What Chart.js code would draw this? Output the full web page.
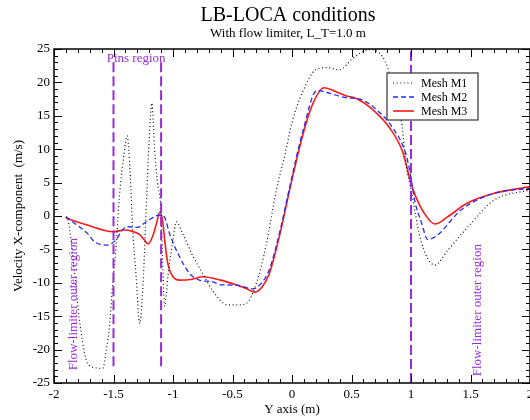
<!DOCTYPE html>
<html>
<head>
<meta charset="utf-8">
<script src="https://cdn.jsdelivr.net/npm/chart.js@4.4.1/dist/chart.umd.min.js"></script>
<style>
  html, body { margin: 0; padding: 0; background: #fff; overflow: hidden; }
  #wrap { width: 540px; height: 420px; }
</style>
</head>
<body>
<div id="wrap"><canvas id="grafico" width="540" height="420"></canvas></div>
<script>
// tick labels
const xTicks = [-2, -1.5, -1, -0.5, 0, 0.5, 1, 1.5, 2];
const yTicks = [-25, -20, -15, -10, -5, 0, 5, 10, 15, 20, 25];

// Mesh M1 (dotted)
const m1X = [-1.9, -1.88, -1.83, -1.786, -1.73, -1.69, -1.59, -1.56, -1.534, -1.506, -1.48, -1.45, -1.41, -1.385,
  -1.36, -1.34, -1.31, -1.28, -1.25, -1.23, -1.2, -1.178, -1.155, -1.13, -1.1, -1.085, -1.07, -1.055, -1.04,
  -1.0, -0.973, -0.92, -0.83, -0.75, -0.67, -0.54, -0.45, -0.385, -0.3, -0.22, -0.13, -0.06, 0.0, 0.09, 0.2, 0.29,
  0.4, 0.51, 0.595, 0.65, 0.76, 0.805, 0.86, 0.92, 0.96, 1.0, 1.03, 1.08, 1.2, 1.31, 1.48, 1.7, 2.0];
const m1Y = [-0.1, -0.8, -8, -15.6, -21.5, -22.5, -22.8, -20, -16.6, -10, -5, 3, 9.5, 12,
  6.4, -1.6, -9, -16.1, -9.6, -1, 11.4, 16.9, 10, 5, 0.5, -8, -13.5, -11.5, -8.6,
  -3.6, -0.85, -2.6, -6.1, -8.6, -11.1, -13.3, -13.3, -13.1, -10.1, -4.6, 4.0, 9.1, 14.0, 18.6, 21.9, 22.2,
  21.9, 23.6, 24.6, 24.9, 23.9, 22.1, 18.5, 14.1, 7.5, 4.0, 1.0, -3.5, -7.35, -5.1, -1.6, 2.4, 3.9];

// Mesh M2 (dashed)
const m2X = [-1.9, -1.83, -1.72, -1.66, -1.56, -1.48, -1.435, -1.39, -1.3, -1.225, -1.18, -1.11, -1.07, -1.03,
  -0.945, -0.86, -0.78, -0.665, -0.6, -0.47, -0.33, -0.25, -0.19, -0.1, -0.02, 0.09, 0.21, 0.31,
  0.46, 0.57, 0.71, 0.85, 0.96, 1.0, 1.03, 1.09, 1.14, 1.22, 1.42, 1.7, 2.0];
const m2Y = [-0.1, -1.05, -2.6, -3.85, -4.35, -3.6, -2.35, -1.6, -1.7, -0.85, -0.35, 0.15, -0.2, -2.6,
  -6.1, -8.6, -9.6, -9.85, -10.3, -10.35, -10.9, -9.9, -8.0, -2.2, 4.3, 12.6, 18.8, 18.4,
  17.7, 17.5, 15.9, 13.1, 9.1, 5.7, 2.4, -1.1, -3.5, -2.9, 0.9, 3.4, 4.15];

// Mesh M3 (solid)
const m3X = [-1.9, -1.72, -1.5, -1.41, -1.34, -1.28, -1.24, -1.21, -1.17, -1.14, -1.11, -1.085, -1.07, -1.044,
  -1.0, -0.945, -0.85, -0.75, -0.6, -0.47, -0.38, -0.31, -0.25, -0.19, -0.1, -0.02, 0.09, 0.17, 0.27,
  0.37, 0.45, 0.54, 0.68, 0.82, 0.93, 1.0, 1.04, 1.11, 1.2, 1.31, 1.47, 1.7, 2.0];
const m3Y = [-0.3, -1.35, -2.35, -2.1, -2.3, -2.8, -3.6, -4.2, -3.0, -1.2, 0.6, -1.0, -3.6, -7.1,
  -9.1, -9.6, -9.5, -9.1, -9.6, -10.3, -10.9, -11.4, -10.6, -8.6, -2.6, 3.9, 12.1, 16.6, 19.2,
  18.6, 18.0, 17.6, 15.9, 13.2, 9.6, 4.9, 2.9, 0.45, -1.2, -0.1, 1.9, 3.4, 4.4];

// region markers
const regionLinesX = [-1.5, -1.1, 1.0];
const regionLinesTop = [23.5, 23.5, 25];
const regionLinesBottom = [-22.5, -22.5, -25];

const serif = "'Liberation Serif', 'DejaVu Serif', serif";
const roxo = '#9b2bd8';

const toPoints = (xs, ys) => xs.map((x, i) => ({ x: x, y: ys[i] }));

const malhas = [
  { label: 'Mesh M1', xs: m1X, ys: m1Y, color: '#111111', width: 1.2, dash: [1, 2.6] },
  { label: 'Mesh M2', xs: m2X, ys: m2Y, color: '#1f2bff', width: 1.3, dash: [5, 3] },
  { label: 'Mesh M3', xs: m3X, ys: m3Y, color: '#ff1a1a', width: 1.6, dash: [] },
];

const datasets = regionLinesX.map((x, i) => ({
  label: 'region',
  data: [{ x: x, y: regionLinesBottom[i] }, { x: x, y: regionLinesTop[i] }],
  borderColor: roxo,
  borderWidth: 2,
  borderDash: [10, 4],
  pointRadius: 0,
  tension: 0,
}));

malhas.forEach((m) => {
  datasets.push({
    label: m.label,
    data: toPoints(m.xs, m.ys),
    borderColor: m.color,
    borderWidth: m.width,
    borderDash: m.dash,
    pointRadius: 0,
    cubicInterpolationMode: 'monotone',
  });
});

const desenharMoldura = (chart) => {
  const { ctx, chartArea: a, scales } = chart;
  const x = scales.x;
  const y = scales.y;
  ctx.save();
  ctx.strokeStyle = '#000';
  ctx.lineWidth = 1;
  const tick = (x1, y1, x2, y2) => {
    ctx.beginPath();
    ctx.moveTo(x1, y1);
    ctx.lineTo(x2, y2);
    ctx.stroke();
  };
  // x ticks, major every 0.5, minor every 0.1
  for (let i = -20; i <= 20; i++) {
    const px = Math.round(x.getPixelForValue(i / 10)) + 0.5;
    const len = i % 5 === 0 ? 8 : 4;
    tick(px, a.bottom, px, a.bottom - len);
    tick(px, a.top, px, a.top + len);
  }
  // y ticks, major every 5, minor every 1
  for (let j = -25; j <= 25; j++) {
    const py = Math.round(y.getPixelForValue(j)) + 0.5;
    const len = j % 5 === 0 ? 8 : 4;
    tick(a.left, py, a.left + len, py);
    tick(a.right, py, a.right - len, py);
  }
  ctx.lineWidth = 1.5;
  ctx.strokeRect(a.left, a.top, a.right - a.left, a.bottom - a.top);
  ctx.restore();
};

const desenharTextos = (chart) => {
  const { ctx, chartArea: a, scales } = chart;
  const x = scales.x;
  const y = scales.y;
  const cx = (a.left + a.right) / 2 - 4;
  ctx.save();
  ctx.fillStyle = '#000';
  ctx.textAlign = 'center';
  ctx.textBaseline = 'alphabetic';
  ctx.font = '20px ' + serif;
  ctx.fillText('LB-LOCA conditions', cx, 21);
  ctx.font = '13px ' + serif;
  ctx.fillText('With flow limiter, L_T=1.0 m', cx, 37);
  ctx.fillText('Y axis (m)', (a.left + a.right) / 2, 413);

  ctx.save();
  ctx.translate(22, (a.top + a.bottom) / 2);
  ctx.rotate(-Math.PI / 2);
  ctx.fillText('Velocity X-component  (m/s)', 0, 0);
  ctx.restore();

  ctx.fillStyle = roxo;
  ctx.textBaseline = 'middle';
  ctx.fillText('Pins region', x.getPixelForValue(-1.31), y.getPixelForValue(23.6));

  const rotulo = (vx, vy) => {
    ctx.save();
    ctx.translate(x.getPixelForValue(vx), y.getPixelForValue(vy));
    ctx.rotate(-Math.PI / 2);
    ctx.fillText('Flow-limiter outer region', 0, 0);
    ctx.restore();
  };
  rotulo(-1.835, -13.2);
  rotulo(1.56, -14.1);
  ctx.restore();
};

const desenharLegenda = (chart) => {
  const { ctx, chartArea: a } = chart;
  const left = a.right - 143;
  const top = a.top + 24;
  const w = 91;
  const h = 47;
  ctx.save();
  ctx.fillStyle = '#fff';
  ctx.fillRect(left, top, w, h);
  ctx.strokeStyle = '#333';
  ctx.lineWidth = 1.2;
  ctx.strokeRect(left, top, w, h);
  ctx.font = '12px ' + serif;
  ctx.textBaseline = 'middle';
  ctx.textAlign = 'left';
  malhas.forEach((m, i) => {
    const ly = top + 10 + i * 14;
    ctx.strokeStyle = m.color;
    ctx.lineWidth = m.width;
    ctx.setLineDash(m.dash);
    ctx.beginPath();
    ctx.moveTo(left + 6, ly);
    ctx.lineTo(left + 27, ly);
    ctx.stroke();
    ctx.setLineDash([]);
    ctx.fillStyle = '#000';
    ctx.fillText(m.label, left + 34, ly + 1);
  });
  ctx.restore();
};

const decoracao = {
  id: 'decoracao',
  afterDatasetsDraw(chart) {
    desenharMoldura(chart);
    desenharLegenda(chart);
  },
  afterDraw(chart) {
    desenharTextos(chart);
  },
};

const ctx = document.getElementById('grafico').getContext('2d');
new Chart(ctx, {
  type: 'line',
  data: { datasets: datasets },
  options: {
    responsive: false,
    animation: false,
    devicePixelRatio: 1,
    layout: { padding: { top: 49, right: 10, left: 0, bottom: 0 } },
    plugins: {
      legend: { display: false },
      title: { display: false },
      tooltip: { enabled: false },
    },
    scales: {
      x: {
        type: 'linear',
        min: -2,
        max: 2,
        afterBuildTicks: (scale) => { scale.ticks = xTicks.map((v) => ({ value: v })); },
        afterFit: (scale) => { scale.height = 37; },
        grid: { display: false, drawTicks: false },
        border: { display: false },
        ticks: {
          padding: 4,
          color: '#000',
          font: { family: serif, size: 13 },
          maxRotation: 0,
          callback: (v) => String(v),
        },
      },
      y: {
        type: 'linear',
        min: -25,
        max: 25,
        afterBuildTicks: (scale) => { scale.ticks = yTicks.map((v) => ({ value: v })); },
        afterFit: (scale) => { scale.width = 54; },
        grid: { display: false, drawTicks: false },
        border: { display: false },
        ticks: {
          padding: 4,
          color: '#000',
          font: { family: serif, size: 13 },
          callback: (v) => String(v),
        },
      },
    },
  },
  plugins: [decoracao],
});
</script>
</body>
</html>
